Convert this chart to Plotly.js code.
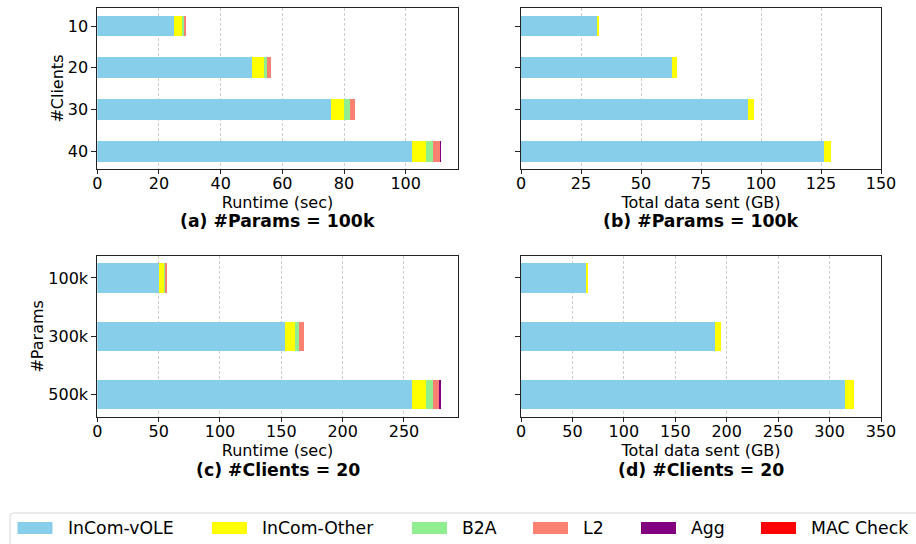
<!DOCTYPE html>
<html>
<head>
<meta charset="utf-8">
<script src="https://cdn.plot.ly/plotly-3.0.1.min.js"></script>
<style>html,body{margin:0;padding:0;background:#fff;}#chart{width:916px;height:544px;}</style>
</head>
<body>
<div id="chart"></div>
<script>
// ---- data ----
const seriesNames = ['InCom-vOLE', 'InCom-Other', 'B2A', 'L2', 'Agg', 'MAC Check'];
const seriesColors = ['#87CEEB', '#FFFF00', '#90EE90', '#FA8072', '#800080', '#FF0000'];

const clients = ['10', '20', '30', '40'];
const params = ['100k', '300k', '500k'];

// (a) runtime (sec), #Params = 100k
const aVole  = [24.8, 50.1, 75.7, 102.1];
const aOther = [2.6, 3.8, 4.3, 4.5];
const aB2A   = [0.6, 1.2, 2.0, 2.4];
const aL2    = [0.7, 1.1, 1.7, 2.0];
const aAgg   = [0, 0, 0, 0.3];
const aMac   = [0, 0, 0, 0];

// (b) total data sent (GB), #Params = 100k
const bVole  = [31.7, 63.1, 94.6, 126.2];
const bOther = [0.7, 1.8, 2.3, 3.0];
const bB2A   = [0, 0, 0, 0];
const bL2    = [0, 0, 0, 0];
const bAgg   = [0, 0, 0, 0];
const bMac   = [0, 0, 0, 0];

// (c) runtime (sec), #Clients = 20
const cVole  = [50.2, 153.1, 256.8];
const cOther = [3.8, 8.1, 10.9];
const cB2A   = [0.9, 3.6, 5.9];
const cL2    = [1.9, 3.3, 5.2];
const cAgg   = [0, 0, 1.0];
const cMac   = [0, 0, 0];

// (d) total data sent (GB), #Clients = 20
const dVole  = [63.2, 189.0, 315.0];
const dOther = [1.9, 5.1, 8.5];
const dB2A   = [0, 0, 0];
const dL2    = [0, 0, 0];
const dAgg   = [0, 0, 0];
const dMac   = [0, 0, 0];

const panelTitles = ['(a) #Params = 100k', '(b) #Params = 100k', '(c) #Clients = 20', '(d) #Clients = 20'];
const xTitles = ['Runtime (sec)', 'Total data sent (GB)', 'Runtime (sec)', 'Total data sent (GB)'];

// ---- build ----
const W = 916, H = 544;
const px = x => x / W;
const py = y => 1 - y / H;

const panels = [
  {cats: clients, series: [aVole, aOther, aB2A, aL2, aAgg, aMac], xa: 'x',  ya: 'y'},
  {cats: clients, series: [bVole, bOther, bB2A, bL2, bAgg, bMac], xa: 'x2', ya: 'y2'},
  {cats: params,  series: [cVole, cOther, cB2A, cL2, cAgg, cMac], xa: 'x3', ya: 'y3'},
  {cats: params,  series: [dVole, dOther, dB2A, dL2, dAgg, dMac], xa: 'x4', ya: 'y4'}
];
const barW = 0.5;
const traces = [];
panels.forEach(p => {
  p.series.forEach((vals, i) => {
    traces.push({
      type: 'bar', orientation: 'h', y: p.cats, x: vals, name: seriesNames[i],
      width: barW, marker: {color: seriesColors[i], line: {width: 0}},
      xaxis: p.xa, yaxis: p.ya, showlegend: false, legendgroup: seriesNames[i]
    });
  });
});

function totalsMax(series) {
  const n = series[0].length; let m = 0;
  for (let k = 0; k < n; k++) { let s = 0; series.forEach(v => s += v[k]); m = Math.max(m, s); }
  return m;
}
function yRange(n) {
  const lo = -barW / 2, hi = n - 1 + barW / 2, pad = 0.05 * (hi - lo);
  return [hi + pad, lo - pad];
}

const font = {family: 'DejaVu Sans, sans-serif', color: '#000'};
const colL = [97.3, 457.7], colR = [521, 881];
const rowT = [8.3, 168.8], rowB = [256, 416.7];

function xaxis(dom, range, dtick, title, anchor) {
  return {
    domain: [px(dom[0]), px(dom[1])], range: range, dtick: dtick, tick0: 0, anchor: anchor,
    showline: true, mirror: true, linecolor: '#222', linewidth: 1,
    ticks: 'outside', ticklen: 4, tickwidth: 1, tickcolor: '#222', ticklabelstandoff: -4,
    showgrid: true, gridcolor: '#cccccc', griddash: '3px,2px', gridwidth: 1,
    zeroline: false, tickfont: {family: font.family, size: 16, color: '#000'},
    title: {text: title, font: {family: font.family, size: 16, color: '#000'}, standoff: 0},
    automargin: false, fixedrange: true
  };
}
function yaxis(dom, cats, labels, title, anchor) {
  return {
    domain: [py(dom[1]), py(dom[0])], type: 'category', categoryorder: 'array', categoryarray: cats,
    range: yRange(cats.length), anchor: anchor,
    showline: true, mirror: true, linecolor: '#222', linewidth: 1,
    ticks: 'outside', ticklen: 5, tickwidth: 1, tickcolor: '#222',
    showgrid: false, zeroline: false, showticklabels: labels,
    tickfont: {family: font.family, size: 16, color: '#000'},
    title: {text: title, font: {family: font.family, size: 16, color: '#000'}, standoff: 0},
    automargin: false, fixedrange: true
  };
}

const layout = {
  width: W, height: H, margin: {l: 0, r: 0, t: 0, b: 0}, paper_bgcolor: '#fff', plot_bgcolor: '#fff',
  barmode: 'stack', showlegend: false, font: font,
  xaxis:  xaxis(colL, [0, totalsMax(panels[0].series) * 1.05], 20, xTitles[0], 'y'),
  xaxis2: xaxis(colR, [0, 150], 25, xTitles[1], 'y2'),
  xaxis3: xaxis(colL, [0, totalsMax(panels[2].series) * 1.05], 50, xTitles[2], 'y3'),
  xaxis4: xaxis(colR, [0, 350], 50, xTitles[3], 'y4'),
  yaxis:  yaxis(rowT, clients, true, '#Clients', 'x'),
  yaxis2: yaxis(rowT, clients, false, '', 'x2'),
  yaxis3: yaxis(rowB, params, true, '#Params', 'x3'),
  yaxis4: yaxis(rowB, params, false, '', 'x4'),
  annotations: [], shapes: []
};

// panel titles
const titlePos = [[(colL[0]+colL[1])/2, 221], [(colR[0]+colR[1])/2, 221], [(colL[0]+colL[1])/2, 470], [(colR[0]+colR[1])/2, 470]];
panelTitles.forEach((t, i) => {
  layout.annotations.push({
    text: '<b>' + t + '</b>', xref: 'paper', yref: 'paper', x: px(titlePos[i][0]), y: py(titlePos[i][1]),
    xanchor: 'center', yanchor: 'middle', showarrow: false,
    font: {family: font.family, size: 17.3, color: '#000'}
  });
});

// custom legend (matplotlib-style wide swatches)
const lx0 = 10, ly0 = 513, lx1 = 930, ly1 = 570, r = 4;
layout.shapes.push({
  type: 'path', xref: 'paper', yref: 'paper', layer: 'above',
  path: `M ${px(lx0)},${py(ly1)} L ${px(lx0)},${py(ly0 + r)} Q ${px(lx0)},${py(ly0)} ${px(lx0 + r)},${py(ly0)} L ${px(lx1)},${py(ly0)} L ${px(lx1)},${py(ly1)} Z`,
  line: {color: '#d6d6d6', width: 1}, fillcolor: 'rgba(255,255,255,0.8)'
});
const swatchX = [17.5, 212, 412, 533, 641, 761];
const swW = 35, swY0 = 522, swY1 = 534;
seriesNames.forEach((nm, i) => {
  layout.shapes.push({
    type: 'rect', xref: 'paper', yref: 'paper', layer: 'above',
    x0: px(swatchX[i]), x1: px(swatchX[i] + swW), y0: py(swY1), y1: py(swY0),
    fillcolor: seriesColors[i], line: {width: 0}
  });
  layout.annotations.push({
    text: nm, xref: 'paper', yref: 'paper', x: px(swatchX[i] + swW + 13), y: py(528),
    xanchor: 'left', yanchor: 'middle', showarrow: false,
    font: {family: font.family, size: 17.3, color: '#000'}
  });
});

Plotly.newPlot('chart', traces, layout, {displayModeBar: false, staticPlot: true});
</script>
</body>
</html>
